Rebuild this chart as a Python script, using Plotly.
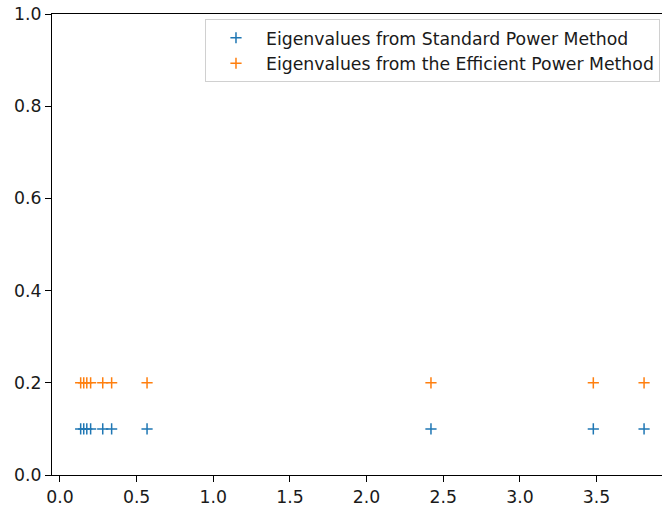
import plotly.graph_objects as go

standard_eigs = [0.135, 0.155, 0.175, 0.200, 0.279, 0.337, 0.568, 2.42, 3.479, 3.81]
efficient_eigs = [0.135, 0.155, 0.175, 0.200, 0.279, 0.337, 0.568, 2.42, 3.479, 3.81]
standard_level = 0.1
efficient_level = 0.2
labels = ["Eigenvalues from Standard Power Method",
          "Eigenvalues from the Efficient Power Method"]

fig = go.Figure()
fig.add_trace(go.Scatter(
    x=standard_eigs, y=[standard_level] * len(standard_eigs), mode="markers",
    name=labels[0],
    marker=dict(symbol="cross-thin", size=8, color="#1f77b4",
                line=dict(width=1.5, color="#1f77b4"))))
fig.add_trace(go.Scatter(
    x=efficient_eigs, y=[efficient_level] * len(efficient_eigs), mode="markers",
    name=labels[1],
    marker=dict(symbol="cross-thin", size=8, color="#ff7f0e",
                line=dict(width=1.5, color="#ff7f0e"))))

font = dict(family="DejaVu Sans", size=17.3, color="#1a1a1a")
fig.update_layout(
    width=662, height=508,
    margin=dict(l=52, r=0, t=14, b=33, autoexpand=False),
    plot_bgcolor="white", paper_bgcolor="white",
    font=font,
    showlegend=True,
    legend=dict(x=0.2508, y=0.9891, xanchor="left", yanchor="top",
                bgcolor="rgba(255,255,255,0.8)", bordercolor="#d0d0d0",
                borderwidth=1, font=font, itemwidth=50),
    xaxis=dict(range=[-0.052, 3.927], tickvals=[0, 0.5, 1, 1.5, 2, 2.5, 3, 3.5],
               ticktext=["0.0", "0.5", "1.0", "1.5", "2.0", "2.5", "3.0", "3.5"],
               showgrid=False, zeroline=False, showline=True, linecolor="black",
               linewidth=1.2, mirror=True, ticks="outside", ticklen=6, tickwidth=1.2,
               tickcolor="black", automargin=False, ticklabeloverflow="allow"),
    yaxis=dict(range=[0, 1], tickvals=[0, 0.2, 0.4, 0.6, 0.8, 1.0],
               ticktext=["0.0", "0.2", "0.4", "0.6", "0.8", "1.0"],
               showgrid=False, zeroline=False, showline=True, linecolor="black",
               linewidth=1.2, ticks="outside", ticklen=6, tickwidth=1.2,
               tickcolor="black", automargin=False, ticklabeloverflow="allow"),
)
fig.write_html(
    "out.html",
    config={"displayModeBar": False},
    post_script="document.body.style.margin='0';document.body.style.overflow='hidden';",
)
